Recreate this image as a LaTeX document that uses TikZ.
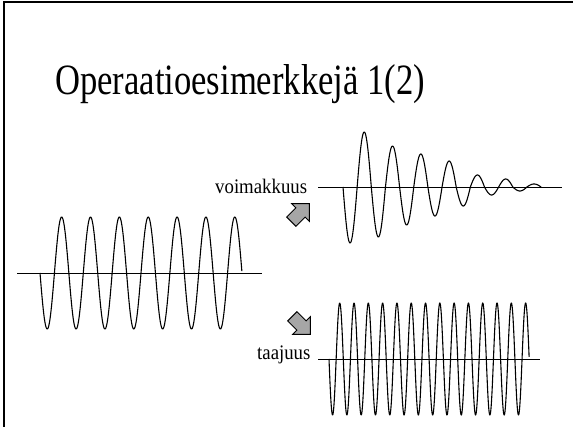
\documentclass[tikz,border=0pt]{standalone}
\usepackage{fontspec}
\setmainfont{Liberation Serif}
\begin{document}
\begin{tikzpicture}[x=1pt,y=-1pt,
  wave/.style={line width=1.1pt, line join=round},
  axisline/.style={line width=0.9pt},
  blockarrow/.style={draw=black, fill=gray!70, line width=0.9pt, line join=miter},
  lbl/.style={anchor=base west, inner sep=0pt, font=\fontsize{18.8}{22}\selectfont}]
\useasboundingbox (0,0) rectangle (573,427);
% frame
\draw[line width=2pt] (4,427) -- (4,2) -- (573,2);
% title
\node[anchor=base west, inner sep=0pt, font=\fontsize{34.6}{40}\selectfont] (title) at (55,95) {\scalebox{1}[1.25]{Operaatioesimerkkejä 1(2)}};
% labels
\node[lbl] (voim) at (215,194) {\scalebox{1}[1.1]{voimakkuus}};
\node[lbl] (taaj) at (257,360) {\scalebox{1}[1.1]{taajuus}};
% left wave
\draw[axisline] (17,273) -- (262,273);
\draw[wave] plot[domain=0:7, samples=420] ({40+28.86*\x}, {273+56*sin(360*\x)});
% top-right damped wave
\draw[axisline] (318,187) -- (562,187);
\draw[wave] (343,187) foreach \a [count=\i from 0] in {56,-55,50,-41,38,-33,29,-26,19,-12,8,-8,4,-3} { -- plot[domain=0:180, samples=30] ({343+14.15*(\i+\x/180)}, {187+\a*sin(\x)}) };
% bottom-right wave
\draw[axisline] (318,359) -- (540,359);
\draw[wave] plot[domain=0:14, samples=700] ({329+14.3*\x}, {359+56*sin(360*\x)});
% block arrows
\draw[blockarrow, shift={(300.5,212.5)}, rotate=45]
  (-13,-6.5) -- (0,-6.5) -- (0,-12.5) -- (12.5,0) -- (0,12.5) -- (0,6.5) -- (-13,6.5) -- cycle;
\draw[blockarrow, shift={(301.5,325.5)}, rotate=-45]
  (-13,-6.5) -- (0,-6.5) -- (0,-12.5) -- (12.5,0) -- (0,12.5) -- (0,6.5) -- (-13,6.5) -- cycle;
\end{tikzpicture}
\end{document}
